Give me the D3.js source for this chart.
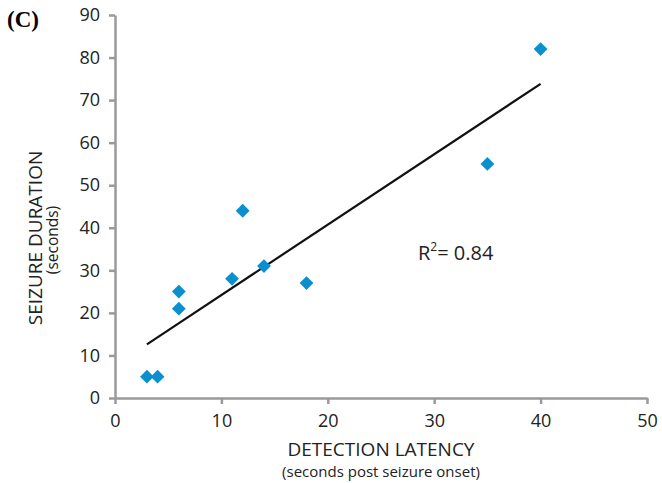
<!DOCTYPE html>
<html>
<head>
<meta charset="utf-8">
<script src="https://cdn.jsdelivr.net/npm/d3@7"></script>
<style>
  body { margin: 0; background: #fff; }
  .axis path, .axis line { stroke: #9a9a9a; stroke-width: 2.5px; }
  .axis text { font-family: "Open Sans", sans-serif; font-size: 18px; fill: #222; }
</style>
</head>
<body>
<div id="chart"></div>
<script>
// detection latency vs seizure duration
var latency = [3, 4, 6, 6, 11, 12, 14, 18, 35, 40];
var duration = [5, 5, 25, 21, 28, 44, 31, 27, 55, 82];
var x_ticks = [0, 10, 20, 30, 40, 50];
var y_ticks = [0, 10, 20, 30, 40, 50, 60, 70, 80, 90];

var svg_size = { 'width': 662, 'height': 483 };
var plot = { 'left': 115, 'right': 647, 'top': 15, 'bottom': 398 };

var svg = d3.select("#chart")
    .append("svg")
    .attr('width', svg_size.width)
    .attr('height', svg_size.height);

var x_scale = d3.scaleLinear().domain([0, 50]).range([plot.left, plot.right]);
var y_scale = d3.scaleLinear().domain([0, 90]).range([plot.bottom, plot.top]);

var x_axis = d3.axisBottom(x_scale).tickValues(x_ticks).tickSizeOuter(0).tickSizeInner(6).tickPadding(10);
var y_axis = d3.axisLeft(y_scale).tickValues(y_ticks).tickSizeOuter(0).tickSizeInner(6).tickPadding(9);

svg.append('g')
    .classed('axis', true)
    .attr('transform', 'translate(0,' + plot.bottom + ')')
    .call(x_axis);

svg.append('g')
    .classed('axis', true)
    .attr('transform', 'translate(' + plot.left + ',0)')
    .call(y_axis);

// linear fit
var n = latency.length;
var mx = d3.mean(latency), my = d3.mean(duration);
var sxy = 0, sxx = 0, syy = 0;
for (var i = 0; i < n; i++) {
    sxy += (latency[i] - mx) * (duration[i] - my);
    sxx += (latency[i] - mx) * (latency[i] - mx);
    syy += (duration[i] - my) * (duration[i] - my);
}
var slope = sxy / sxx;
var intercept = my - slope * mx;
var r2 = sxy * sxy / (sxx * syy);
var x_min = d3.min(latency), x_max = d3.max(latency);

svg.append('line')
    .attr('x1', x_scale(x_min))
    .attr('y1', y_scale(intercept + slope * x_min))
    .attr('x2', x_scale(x_max))
    .attr('y2', y_scale(intercept + slope * x_max))
    .style('stroke', '#111')
    .style('stroke-width', 2.2);

// points
var diamond = d3.symbol().type(d3.symbolSquare).size(95);
svg.selectAll('.pt')
    .data(d3.range(n))
    .enter()
    .append('path')
    .classed('pt', true)
    .attr('d', diamond)
    .attr('transform', function(i){
        return 'translate(' + x_scale(latency[i]) + ',' + y_scale(duration[i]) + ') rotate(45)';
    })
    .style('fill', '#0a8fcf');

// r squared label
var r2_text = svg.append('text')
    .attr('x', 418)
    .attr('y', 260)
    .style('font-family', '"Open Sans", sans-serif')
    .style('font-size', '20px')
    .style('fill', '#222');
r2_text.append('tspan').text('R');
r2_text.append('tspan').attr('dy', -9).style('font-size', '12px').text('2');
r2_text.append('tspan').attr('dy', 9).text('= ' + r2.toFixed(2));

// panel label
svg.append('text')
    .attr('x', 7)
    .attr('y', 27)
    .style('font-family', '"Liberation Serif", serif')
    .style('font-weight', 'bold')
    .style('font-size', '23px')
    .text('(C)');

// axis titles
svg.append('text')
    .attr('x', 381)
    .attr('y', 456)
    .attr('text-anchor', 'middle')
    .style('font-family', '"Open Sans", sans-serif')
    .style('font-size', '19px')
    .style('fill', '#222')
    .text('DETECTION LATENCY');

svg.append('text')
    .attr('x', 381)
    .attr('y', 477)
    .attr('text-anchor', 'middle')
    .style('font-family', '"Open Sans", sans-serif')
    .style('font-size', '15px')
    .style('fill', '#222')
    .text('(seconds post seizure onset)');

svg.append('text')
    .attr('transform', 'translate(42,238) rotate(-90)')
    .attr('text-anchor', 'middle')
    .style('font-family', '"Open Sans", sans-serif')
    .style('font-size', '19px')
    .style('fill', '#222')
    .text('SEIZURE DURATION');

svg.append('text')
    .attr('transform', 'translate(58,240) rotate(-90)')
    .attr('text-anchor', 'middle')
    .style('font-family', '"Open Sans", sans-serif')
    .style('font-size', '15.5px')
    .style('fill', '#222')
    .text('(seconds)');
</script>
</body>
</html>
